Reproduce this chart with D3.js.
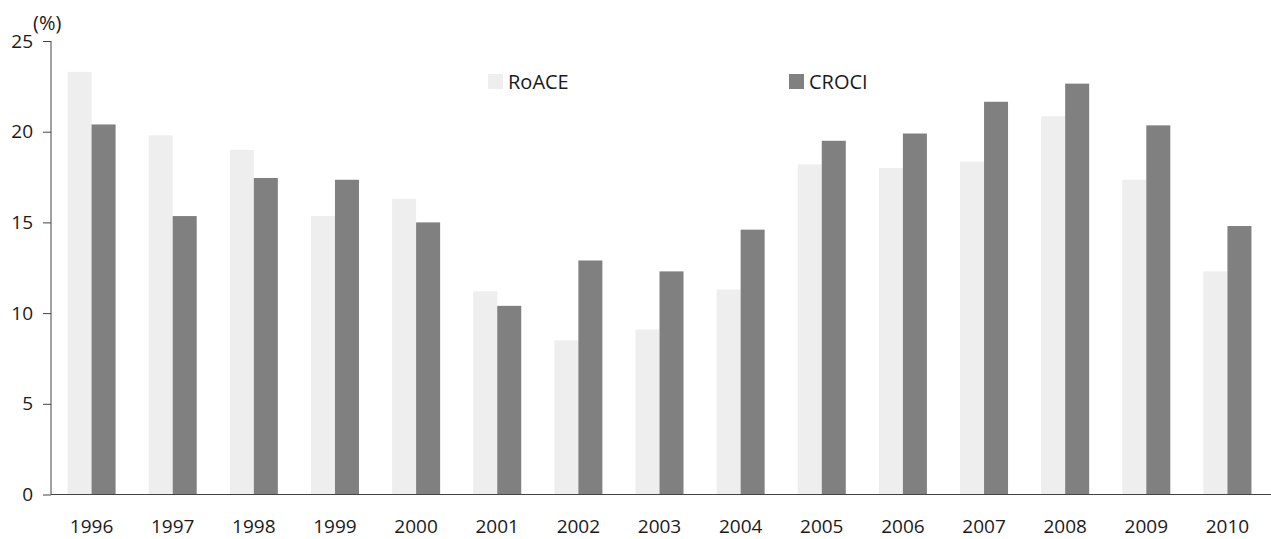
<!DOCTYPE html>
<html>
<head>
<meta charset="utf-8">
<script src="https://cdn.jsdelivr.net/npm/d3@7"></script>
<style>
  body { margin: 0; background: #fff; }
  svg { display: block; font-family: "Open Sans", sans-serif; }
</style>
</head>
<body>
<svg></svg>
<script>
let years = ["1996","1997","1998","1999","2000","2001","2002","2003","2004","2005","2006","2007","2008","2009","2010"]
let roace = [23.3, 19.8, 19.0, 15.35, 16.3, 11.2, 8.5, 9.1, 11.3, 18.2, 18.0, 18.35, 20.85, 17.35, 12.3]
let croci = [20.4, 15.35, 17.45, 17.35, 15.0, 10.4, 12.9, 12.3, 14.6, 19.5, 19.9, 21.65, 22.65, 20.35, 14.8]
let seriesNames = ["RoACE", "CROCI"]
let seriesColors = ["#eeeeee", "#808080"]
let yTicks = [0, 5, 10, 15, 20, 25]

let width = 1271
let height = 539
let plotLeft = 51
let plotRight = 1268
let plotTop = 41
let plotBottom = 494.5

let svg = d3.select('svg')
svg.attr('width', width).attr('height', height)

let xScale = d3.scaleBand()
               .domain(years)
               .range([plotLeft, plotRight])
               .paddingInner(0.408)
               .paddingOuter(0.204)

let xInner = d3.scaleBand()
               .domain(seriesNames)
               .range([0, xScale.bandwidth()])

let yScale = d3.scaleLinear()
               .domain([0, 25])
               .range([plotBottom, plotTop])

let color = d3.scaleOrdinal().domain(seriesNames).range(seriesColors)

let rows = years.map((y, i) => ({year: y, values: [
    {name: "RoACE", value: roace[i]},
    {name: "CROCI", value: croci[i]}
]}))

// bars
svg.append('g')
   .selectAll('g')
   .data(rows)
   .enter()
   .append('g')
   .attr('transform', d => 'translate(' + xScale(d.year) + ',0)')
   .selectAll('rect')
   .data(d => d.values)
   .enter()
   .append('rect')
   .attr('x', d => xInner(d.name))
   .attr('width', xInner.bandwidth())
   .attr('y', d => yScale(d.value))
   .attr('height', d => plotBottom - yScale(d.value))
   .attr('fill', d => color(d.name))

// axes
let xAxis = d3.axisBottom(xScale).tickSize(0).tickPadding(25)
let gx = svg.append('g')
   .attr('transform', 'translate(0,' + plotBottom + ')')
   .call(xAxis)
gx.select('.domain').attr('d', 'M' + plotLeft + ',0H' + width).attr('stroke', '#444')
gx.selectAll('text').attr('font-size', 19).attr('fill', '#1a1a1a').attr('font-family', '"Open Sans", sans-serif')

let yAxis = d3.axisLeft(yScale).tickValues(yTicks).tickSize(8).tickPadding(10)
let gy = svg.append('g')
   .attr('transform', 'translate(' + plotLeft + ',0)')
   .call(yAxis)
gy.select('.domain').attr('d', 'M0,' + plotTop + 'V' + plotBottom).attr('stroke', '#444')
gy.selectAll('line').attr('stroke', '#444')
gy.selectAll('text').attr('font-size', 19).attr('fill', '#1a1a1a').attr('font-family', '"Open Sans", sans-serif')

svg.append('text')
   .attr('x', 33)
   .attr('y', 30)
   .attr('font-size', 20)
   .attr('fill', '#1a1a1a')
   .text('(%)')

// legend
let legendX = [488, 789]
let legend = svg.append('g')
seriesNames.forEach((name, i) => {
    legend.append('rect')
          .attr('x', legendX[i])
          .attr('y', 74)
          .attr('width', 15)
          .attr('height', 15)
          .attr('fill', color(name))
    legend.append('text')
          .attr('x', legendX[i] + 20)
          .attr('y', 89)
          .attr('font-size', 20)
          .attr('fill', '#1a1a1a')
          .text(name)
})
</script>
</body>
</html>
